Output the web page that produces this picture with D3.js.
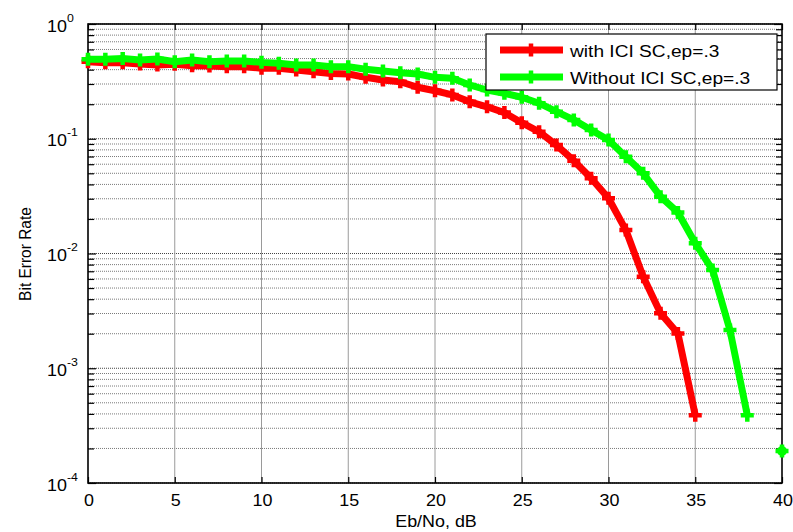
<!DOCTYPE html>
<html>
<head>
<meta charset="utf-8">
<script src="https://cdn.jsdelivr.net/npm/d3@7"></script>
<style>
  body { margin: 0; background: #fff; }
  text { font-family: "Liberation Sans", Arial, sans-serif; fill: #000; }
</style>
</head>
<body>
<div id="chart"></div>
<script>
// Eb/No in dB
var ebNo = [0,1,2,3,4,5,6,7,8,9,10,11,12,13,14,15,16,17,18,19,20,
            21,22,23,24,25,26,27,28,29,30,31,32,33,34,35,36,37,38,39,40];
// BER with ICI self cancellation (0..35 dB)
var berWith = [0.469,0.460,0.460,0.448,0.439,0.445,0.433,0.431,0.425,0.425,
               0.411,0.411,0.397,0.384,0.371,0.367,0.343,0.325,0.314,0.281,
               0.262,0.241,0.210,0.190,0.169,0.138,0.115,0.088,0.0644,0.0452,
               0.0303,0.0160,0.00628,0.00301,0.00201,0.00039];
// BER without ICI self cancellation (39 dB gave zero errors)
var berWithout = [0.492,0.492,0.500,0.486,0.495,0.469,0.486,0.469,0.476,0.476,
                  0.463,0.454,0.439,0.439,0.425,0.425,0.403,0.389,0.376,0.367,
                  0.343,0.336,0.294,0.266,0.249,0.230,0.204,0.172,0.146,0.119,
                  0.0975,0.0698,0.050,0.0313,0.0228,0.0123,0.00718,0.00215,0.00039,null,
                  0.00019];
var xTicks = [0,5,10,15,20,25,30,35,40];
var yTicks = [1e-4,1e-3,1e-2,1e-1,1];
var yExp = ["-4","-3","-2","-1","0"];
var seriesNames = ["with ICI SC,ep=.3","Without ICI SC,ep=.3"];
var seriesColors = ["#ff0000","#00ff00"];

var width=793, height=532,
    margin={left:88, top:24, right:11, bottom:49};

var svg=d3.select("#chart").append("svg")
    .attr("width",width)
    .attr("height",height);

var x=d3.scaleLinear().domain([0,40]).range([margin.left,width-margin.right]);
var y=d3.scaleLog().domain([1e-4,1]).range([height-margin.bottom,margin.top]);

var x0=x.range()[0], x1=x.range()[1], y0=y.range()[0], y1=y.range()[1];
var minorY=y.ticks().filter(function(v){return yTicks.indexOf(v)<0;});

// grid
svg.append("g").selectAll("line")
    .data(y.ticks())
    .enter().append("line")
    .attr("x1",x0).attr("x2",x1)
    .attr("y1",function(d){return y(d);})
    .attr("y2",function(d){return y(d);})
    .attr("stroke",function(d){return yTicks.indexOf(d)<0?"#7a7a7a":"#444";})
    .attr("stroke-width",1)
    .attr("stroke-dasharray","1,1");

svg.append("g").selectAll("line")
    .data(xTicks.slice(1,-1))
    .enter().append("line")
    .attr("y1",y0).attr("y2",y1)
    .attr("x1",function(d){return x(d);})
    .attr("x2",function(d){return x(d);})
    .attr("stroke","#9a9a9a")
    .attr("stroke-width",1);

// axes (ticks only, labels drawn below)
function tickStyle(g){
    g.select(".domain").remove();
    g.selectAll(".tick line").attr("stroke","#000").attr("stroke-width",1.2);
    g.selectAll(".tick text").remove();
}
svg.append("g").attr("transform","translate(0,"+y0+")")
    .call(d3.axisBottom(x).tickValues(xTicks).tickSize(-6).tickFormat("")).call(tickStyle);
svg.append("g").attr("transform","translate(0,"+y1+")")
    .call(d3.axisTop(x).tickValues(xTicks).tickSize(-6).tickFormat("")).call(tickStyle);
svg.append("g").attr("transform","translate("+x0+",0)")
    .call(d3.axisLeft(y).tickValues(yTicks).tickSize(-8).tickFormat("")).call(tickStyle);
svg.append("g").attr("transform","translate("+x0+",0)")
    .call(d3.axisLeft(y).tickValues(minorY).tickSize(-6).tickFormat("")).call(tickStyle);
svg.append("g").attr("transform","translate("+x1+",0)")
    .call(d3.axisRight(y).tickValues(yTicks).tickSize(-8).tickFormat("")).call(tickStyle);
svg.append("g").attr("transform","translate("+x1+",0)")
    .call(d3.axisRight(y).tickValues(minorY).tickSize(-6).tickFormat("")).call(tickStyle);

// frame
svg.append("rect")
    .attr("x",x0).attr("y",y1)
    .attr("width",x1-x0).attr("height",y0-y1)
    .attr("fill","none").attr("stroke","#000").attr("stroke-width",1.6);

// tick labels
svg.append("g").selectAll("text")
    .data(xTicks)
    .enter().append("text")
    .attr("text-anchor","middle")
    .attr("font-size",16)
    .attr("transform",function(d){return "translate("+(x(d)+1)+",506) scale(1.12,1)";})
    .text(function(d){return d;});

var yl=svg.append("g").selectAll("text")
    .data(yTicks)
    .enter().append("text")
    .attr("font-size",16)
    .attr("transform",function(d){return "translate(47,"+(y(d)+7.5)+") scale(1.12,1)";});
yl.append("tspan").text("10");
yl.append("tspan").attr("dy",-10).attr("font-size",11)
    .text(function(d,i){return yExp[i];});

// axis titles
svg.append("text")
    .attr("text-anchor","middle")
    .attr("font-size",16)
    .attr("transform","translate(436,527) scale(1.12,1)")
    .text("Eb/No, dB");
svg.append("text")
    .attr("text-anchor","middle")
    .attr("font-size",15.5)
    .attr("transform","translate(31,254) rotate(-90) scale(1,1.12)")
    .text("Bit Error Rate");

// curves
var series=[berWith,berWithout].map(function(vals,i){
    return {name:seriesNames[i], color:seriesColors[i],
            pts:vals.map(function(v,j){return {x:ebNo[j], v:v};})};
});

var line=d3.line()
    .defined(function(d){return d.v!=null;})
    .x(function(d){return x(d.x);})
    .y(function(d){return y(d.v);});

var plus="M-6.5,0L6.5,0M0,-6.5L0,6.5";

series.forEach(function(s){
    var g=svg.append("g");
    g.append("path")
        .attr("d",line(s.pts))
        .attr("fill","none")
        .attr("stroke",s.color)
        .attr("stroke-width",7)
        .attr("stroke-linejoin","round");
    g.selectAll(".mk")
        .data(s.pts.filter(function(d){return d.v!=null;}))
        .enter().append("path")
        .attr("class","mk")
        .attr("d",plus)
        .attr("transform",function(d){return "translate("+x(d.x)+","+y(d.v)+")";})
        .attr("stroke",s.color)
        .attr("stroke-width",4.5);
    // isolated point (neighbours undefined): draw a blob
    g.selectAll(".iso")
        .data(s.pts.filter(function(d,j){
            return d.v!=null && (j==0||s.pts[j-1].v==null) && (j==s.pts.length-1||s.pts[j+1].v==null);
        }))
        .enter().append("circle")
        .attr("cx",function(d){return x(d.x);})
        .attr("cy",function(d){return y(d.v);})
        .attr("r",5)
        .attr("fill",s.color);
});

// legend
var lg=svg.append("g");
lg.append("rect")
    .attr("x",486).attr("y",34)
    .attr("width",291).attr("height",56)
    .attr("fill","#fff").attr("stroke","#000").attr("stroke-width",1.2);
series.forEach(function(s,i){
    var ly=50+i*27;
    lg.append("line")
        .attr("x1",500).attr("x2",563)
        .attr("y1",ly).attr("y2",ly)
        .attr("stroke",s.color).attr("stroke-width",7);
    lg.append("path")
        .attr("d",plus)
        .attr("transform","translate(531,"+ly+")")
        .attr("stroke",s.color).attr("stroke-width",4.5);
    lg.append("text")
        .attr("font-size",16.5)
        .attr("transform","translate(570,"+(ly+6.5)+") scale(1.16,1)")
        .text(s.name);
});
</script>
</body>
</html>
